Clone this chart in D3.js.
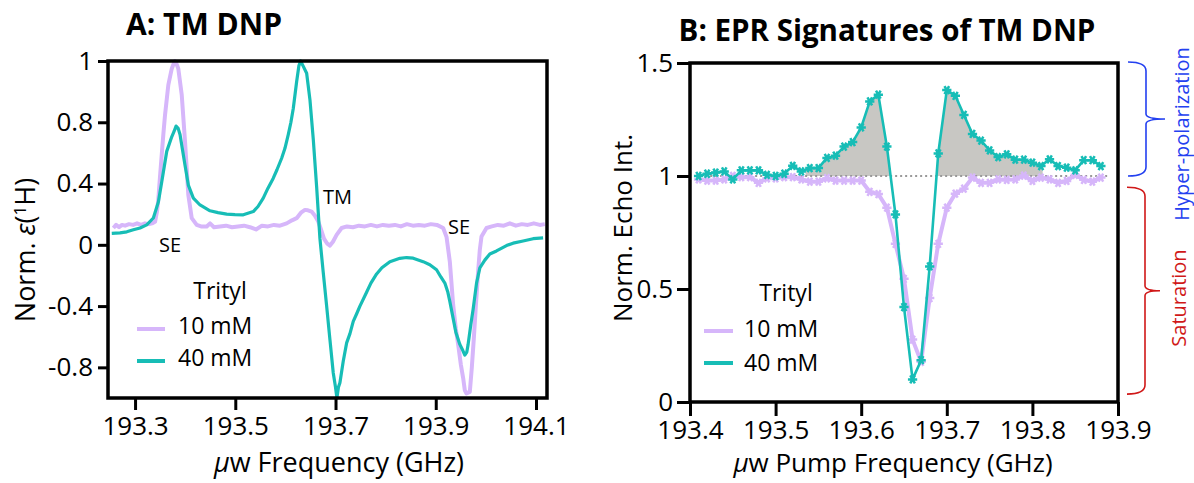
<!DOCTYPE html>
<html lang="en">
<head>
<meta charset="UTF-8">
<script src="https://d3js.org/d3.v7.min.js"></script>
<style>
  body { margin: 0; background: #fff; }
  svg text { font-family: "Open Sans", sans-serif; fill: #000; }
</style>
</head>
<body>
<svg id="fig" width="1194" height="483"></svg>
<script>
// ---- Panel A: DNP enhancement profiles ----
const freqA40 = [193.2535,193.27,193.2835,193.2966,193.31,193.3233,193.3365,193.3465,193.3532,193.3632,
  193.3732,193.3778,193.3818,193.386,193.3897,193.3997,193.4063,193.4163,193.4296,193.4496,
  193.4655,193.4829,193.4994,193.516,193.5359,193.5453,193.5558,193.5652,193.5758,193.5832,
  193.5925,193.5991,193.6057,193.611,193.6157,193.6224,193.627,193.6304,193.635,193.6424,
  193.649,193.6557,193.6623,193.6689,193.6755,193.6823,193.6889,193.6955,193.70,193.7028,
  193.7058,193.7088,193.7154,193.7222,193.7288,193.7354,193.7422,193.7487,193.762,193.7706,
  193.782,193.7925,193.8085,193.8284,193.8418,193.855,193.8749,193.8882,193.9016,193.9102,
  193.9182,193.9242,193.9281,193.9347,193.9401,193.9481,193.9541,193.958,193.962,193.9646,
  193.97,193.9746,193.9814,193.988,193.9979,194.0079,194.0213,194.0412,194.0544,194.0743,
  194.0943,194.1142];
const epsA40 = [0.075,0.078,0.085,0.098,0.11,0.13,0.175,0.28,0.41,0.61,
  0.705,0.74,0.775,0.76,0.72,0.52,0.39,0.305,0.26,0.222,
  0.21,0.20,0.197,0.196,0.217,0.25,0.305,0.37,0.435,0.49,
  0.565,0.63,0.72,0.80,0.89,1.065,1.17,1.2,1.17,1.12,
  0.946,0.685,0.38,0.04,-0.18,-0.40,-0.62,-0.837,-0.93,-1.0,
  -0.93,-0.90,-0.76,-0.64,-0.58,-0.50,-0.45,-0.40,-0.31,-0.25,
  -0.19,-0.15,-0.11,-0.088,-0.083,-0.087,-0.11,-0.13,-0.163,-0.21,
  -0.25,-0.31,-0.37,-0.48,-0.57,-0.65,-0.69,-0.72,-0.70,-0.65,
  -0.52,-0.42,-0.25,-0.15,-0.10,-0.06,-0.04,-0.005,0.011,0.025,
  0.04,0.045];

const freqA10 = [193.2567,193.2621,193.2681,193.274,193.2801,193.288,193.296,193.304,193.312,193.3199,
  193.3279,193.3339,193.3399,193.3439,193.3465,193.3499,193.3532,193.3564,193.3598,193.3664,
  193.3732,193.3768,193.3798,193.3828,193.3863,193.3931,193.3997,193.4063,193.4131,193.423,
  193.4316,193.443,193.4496,193.4575,193.4695,193.4815,193.4934,193.5054,193.5174,193.5293,
  193.5413,193.5532,193.5652,193.5772,193.5891,193.6025,193.6131,193.6224,193.631,193.639,
  193.645,193.6523,193.659,193.6656,193.671,193.677,193.6829,193.6889,193.6949,193.7022,
  193.7122,193.7228,193.7347,193.7467,193.7587,193.7706,193.7826,193.7946,193.8065,193.8185,
  193.8304,193.8424,193.8544,193.8663,193.8783,193.8903,193.9022,193.9148,193.9216,193.9281,
  193.9347,193.9401,193.9447,193.95,193.9547,193.958,193.9614,193.968,193.972,193.976,
  193.98,193.9846,193.988,193.9913,194.0013,194.0119,194.0239,194.0358,194.0478,194.0598,
  194.0717,194.0837,194.0957,194.1076,194.1176];
const epsA10 = [0.11,0.13,0.115,0.13,0.125,0.135,0.13,0.14,0.13,0.14,
  0.135,0.14,0.15,0.22,0.30,0.45,0.587,0.72,0.848,1.044,
  1.15,1.18,1.2,1.18,1.15,0.98,0.674,0.326,0.174,0.13,
  0.12,0.12,0.14,0.115,0.12,0.125,0.115,0.12,0.125,0.115,
  0.1,0.125,0.12,0.13,0.125,0.14,0.16,0.174,0.21,0.228,
  0.225,0.217,0.19,0.152,0.10,0.04,0.01,-0.005,0.02,0.065,
  0.11,0.12,0.115,0.125,0.12,0.13,0.12,0.13,0.125,0.13,
  0.12,0.135,0.125,0.13,0.125,0.135,0.13,0.11,0.05,-0.11,
  -0.39,-0.55,-0.65,-0.78,-0.87,-0.95,-0.97,-0.96,-0.80,-0.61,
  -0.40,-0.174,-0.03,0.054,0.11,0.12,0.13,0.125,0.14,0.125,
  0.135,0.13,0.14,0.13,0.135];

const tickXA = [193.3, 193.5, 193.7, 193.9, 194.1];
const tickYA = [1.2, 0.8, 0.4, 0, -0.4, -0.8];
const tickYALabels = ["1", "0.8", "0.4", "0", "-0.4", "-0.8"];

// ---- Panel B: EPR echo vs pump frequency ----
const freqB = [193.41,193.42,193.43,193.44,193.45,193.46,193.47,193.48,193.49,193.50,
  193.51,193.52,193.53,193.54,193.55,193.56,193.57,193.58,193.59,193.60,
  193.61,193.62,193.63,193.64,193.65,193.66,193.67,193.68,193.69,193.70,
  193.71,193.72,193.73,193.74,193.75,193.76,193.77,193.78,193.79,193.80,
  193.81,193.82,193.83,193.84,193.85,193.86,193.87,193.88];
const echoB40 = [1.00,1.01,1.015,1.02,0.985,1.025,1.025,1.025,1.005,1.00,
  1.01,1.045,1.02,1.035,1.035,1.08,1.09,1.13,1.15,1.215,
  1.33,1.36,1.13,0.83,0.42,0.10,0.185,0.60,1.10,1.38,
  1.355,1.27,1.186,1.157,1.113,1.084,1.096,1.072,1.072,1.059,
  1.044,1.074,1.044,1.037,1.025,1.07,1.07,1.044];
const echoB10 = [0.985,0.98,0.98,0.985,1.00,0.995,0.995,0.97,0.99,0.99,
  0.995,0.995,0.985,0.975,0.975,0.99,0.98,0.98,0.98,0.98,
  0.93,0.92,0.86,0.70,0.545,0.276,0.178,0.46,0.70,0.86,
  0.922,0.944,0.993,0.97,0.97,0.985,0.983,0.985,1.002,0.978,
  0.993,0.985,0.97,0.978,1.005,0.983,0.975,0.993];
const shadeRange = [193.535, 193.812];

const tickXB = [193.4, 193.5, 193.6, 193.7, 193.8, 193.9];
const tickYB = [0, 0.5, 1, 1.5];
const tickYBLabels = ["0", "0.5", "1", "1.5"];

const seriesNames = ["10 mM", "40 mM"];

const TEAL = "#17bdb6", LILAC = "#d6b6fa";
const svg = d3.select("#fig");

function styleAxis(g, size) {
  g.attr("font-family", null).attr("font-size", null);
  g.select(".domain").remove();
  g.selectAll(".tick line").attr("stroke", "#000").attr("stroke-width", 3);
  g.selectAll(".tick text").style("font-size", size + "px");
}

// ================= Panel A =================
const xA = d3.scaleLinear().domain([193.246, 194.122]).range([108, 547]);
const yA = d3.scaleLinear().domain([-1.0, 1.2]).range([398, 61]);
const gA = svg.append("g");

const lineA = d3.line().x(d => xA(d[0])).y(d => yA(d[1]));
gA.append("path").datum(d3.zip(freqA10, epsA10))
  .attr("d", lineA).attr("fill", "none").attr("stroke", LILAC)
  .attr("stroke-width", 4).attr("stroke-linejoin", "round");
gA.append("path").datum(d3.zip(freqA40, epsA40))
  .attr("d", lineA).attr("fill", "none").attr("stroke", TEAL)
  .attr("stroke-width", 3.2).attr("stroke-linejoin", "round");

gA.append("rect")
  .attr("x", xA.range()[0]).attr("y", yA.range()[1])
  .attr("width", xA.range()[1] - xA.range()[0]).attr("height", yA.range()[0] - yA.range()[1])
  .attr("fill", "none").attr("stroke", "#000").attr("stroke-width", 3.5);

gA.append("g").attr("transform", `translate(${xA.range()[0]},0)`)
  .call(d3.axisLeft(yA).tickValues(tickYA).tickFormat((d, i) => tickYALabels[i]).tickSize(10).tickPadding(5))
  .call(styleAxis, 26);
gA.append("g").attr("transform", `translate(0,${yA.range()[0]})`)
  .call(d3.axisBottom(xA).tickValues(tickXA).tickFormat(d3.format(".1f")).tickSize(12).tickPadding(7))
  .call(styleAxis, 26);

gA.append("text").attr("x", 204).attr("y", 35).attr("text-anchor", "middle")
  .style("font-size", "30px").style("font-weight", "bold").text("A: TM DNP");

const ylabA = gA.append("text").attr("transform", "translate(35,250) rotate(-90)")
  .attr("text-anchor", "middle").style("font-size", "27px");
ylabA.append("tspan").text("Norm. ");
ylabA.append("tspan").style("font-style", "italic").text("ε");
ylabA.append("tspan").text("(");
ylabA.append("tspan").attr("dy", -9).style("font-size", "17px").text("1");
ylabA.append("tspan").attr("dy", 9).text("H)");

const xlabA = gA.append("text").attr("x", 339).attr("y", 472).attr("text-anchor", "middle")
  .style("font-size", "27px");
xlabA.append("tspan").style("font-style", "italic").text("μ");
xlabA.append("tspan").text("w Frequency (GHz)");

gA.append("text").attr("x", 170).attr("y", 252).attr("text-anchor", "middle").style("font-size", "20px").text("SE");
gA.append("text").attr("x", 323).attr("y", 204).style("font-size", "20px").text("TM");
gA.append("text").attr("x", 448).attr("y", 234).style("font-size", "20px").text("SE");

function legend(g, cx, titleY, lineX, textX, rows) {
  g.append("text").attr("x", cx).attr("y", titleY).attr("text-anchor", "middle")
    .style("font-size", "23px").text("Trityl");
  rows.forEach((r, i) => {
    g.append("line").attr("x1", lineX[0]).attr("x2", lineX[1]).attr("y1", r.ly).attr("y2", r.ly)
      .attr("stroke", r.color).attr("stroke-width", 4);
    g.append("text").attr("x", textX).attr("y", r.ty).style("font-size", "23px").text(seriesNames[i]);
  });
}
legend(gA, 220, 299, [137, 165], 178, [
  { color: LILAC, ly: 329, ty: 334 },
  { color: TEAL, ly: 361, ty: 366 }
]);

// ================= Panel B =================
const xB = d3.scaleLinear().domain([193.4, 193.9]).range([690, 1118]);
const yB = d3.scaleLinear().domain([0, 1.5]).range([402, 63]);
const gB = svg.append("g");

gB.append("clipPath").attr("id", "shadeClip").append("rect")
  .attr("x", xB(shadeRange[0])).attr("y", yB(1.5))
  .attr("width", xB(shadeRange[1]) - xB(shadeRange[0])).attr("height", yB(1) - yB(1.5));
gB.append("path").datum(d3.zip(freqB, echoB40))
  .attr("d", d3.area().x(d => xB(d[0])).y0(yB(1)).y1(d => yB(d[1])))
  .attr("fill", "#c8c7c3").attr("clip-path", "url(#shadeClip)");

gB.append("line").attr("x1", xB(193.406)).attr("x2", xB(193.888))
  .attr("y1", yB(1)).attr("y2", yB(1))
  .attr("stroke", "#999").attr("stroke-width", 2).attr("stroke-dasharray", "2,3");

const lineB = d3.line().x(d => xB(d[0])).y(d => yB(d[1]));
const marker = d3.symbol().type(d3.symbolAsterisk).size(60);
[[echoB10, LILAC, 4], [echoB40, TEAL, 2.6]].forEach(([vals, col, w]) => {
  const pts = d3.zip(freqB, vals);
  gB.append("path").datum(pts).attr("d", lineB).attr("fill", "none")
    .attr("stroke", col).attr("stroke-width", w).attr("stroke-linejoin", "round");
  gB.append("g").selectAll("path").data(pts).join("path")
    .attr("d", marker)
    .attr("transform", d => `translate(${xB(d[0])},${yB(d[1])}) rotate(90)`)
    .attr("fill", "none").attr("stroke", col).attr("stroke-width", 2.5);
});

gB.append("rect")
  .attr("x", xB.range()[0]).attr("y", yB.range()[1])
  .attr("width", xB.range()[1] - xB.range()[0]).attr("height", yB.range()[0] - yB.range()[1])
  .attr("fill", "none").attr("stroke", "#000").attr("stroke-width", 3.5);

gB.append("g").attr("transform", `translate(${xB.range()[0]},0)`)
  .call(d3.axisLeft(yB).tickValues(tickYB).tickFormat((d, i) => tickYBLabels[i]).tickSize(13).tickPadding(4))
  .call(styleAxis, 26);
gB.append("g").attr("transform", `translate(0,${yB.range()[0]})`)
  .call(d3.axisBottom(xB).tickValues(tickXB).tickFormat(d3.format(".1f")).tickSize(14).tickPadding(5))
  .call(styleAxis, 26);

gB.append("text").attr("x", 887).attr("y", 41).attr("text-anchor", "middle")
  .style("font-size", "29.5px").style("font-weight", "bold").text("B: EPR Signatures of TM DNP");

gB.append("text").attr("transform", "translate(632,228) rotate(-90)")
  .attr("text-anchor", "middle").style("font-size", "26px").text("Norm. Echo Int.");

const xlabB = gB.append("text").attr("x", 893).attr("y", 472).attr("text-anchor", "middle")
  .style("font-size", "26px");
xlabB.append("tspan").style("font-style", "italic").text("μ");
xlabB.append("tspan").text("w Pump Frequency (GHz)");

legend(gB, 786, 301, [704, 733], 744, [
  { color: LILAC, ly: 331, ty: 337 },
  { color: TEAL, ly: 363, ty: 371 }
]);

// curly braces on the right
function brace(top, bot, x0, x1, tip, color) {
  const mid = (top + bot) / 2;
  const p = d3.path();
  p.moveTo(x0, top);
  p.quadraticCurveTo(x1, top, x1, top + 9);
  p.lineTo(x1, mid - 5);
  p.quadraticCurveTo(x1, mid, tip, mid);
  p.quadraticCurveTo(x1, mid, x1, mid + 5);
  p.lineTo(x1, bot - 9);
  p.quadraticCurveTo(x1, bot, x0, bot);
  gB.append("path").attr("d", p.toString()).attr("fill", "none")
    .attr("stroke", color).attr("stroke-width", 1.6);
}
brace(yB(1.5) - 1, yB(1.0), 1128, 1146, 1165, "#2340f0");
brace(yB(0.95), yB(0.035), 1127, 1145, 1160, "#d01818");

gB.append("text").attr("transform", "translate(1189,134) rotate(-90)")
  .attr("text-anchor", "middle").style("font-size", "20px").style("fill", "#2340f0")
  .text("Hyper-polarization");
gB.append("text").attr("transform", "translate(1186,298) rotate(-90)")
  .attr("text-anchor", "middle").style("font-size", "20px").style("fill", "#d01818")
  .text("Saturation");
</script>
</body>
</html>
